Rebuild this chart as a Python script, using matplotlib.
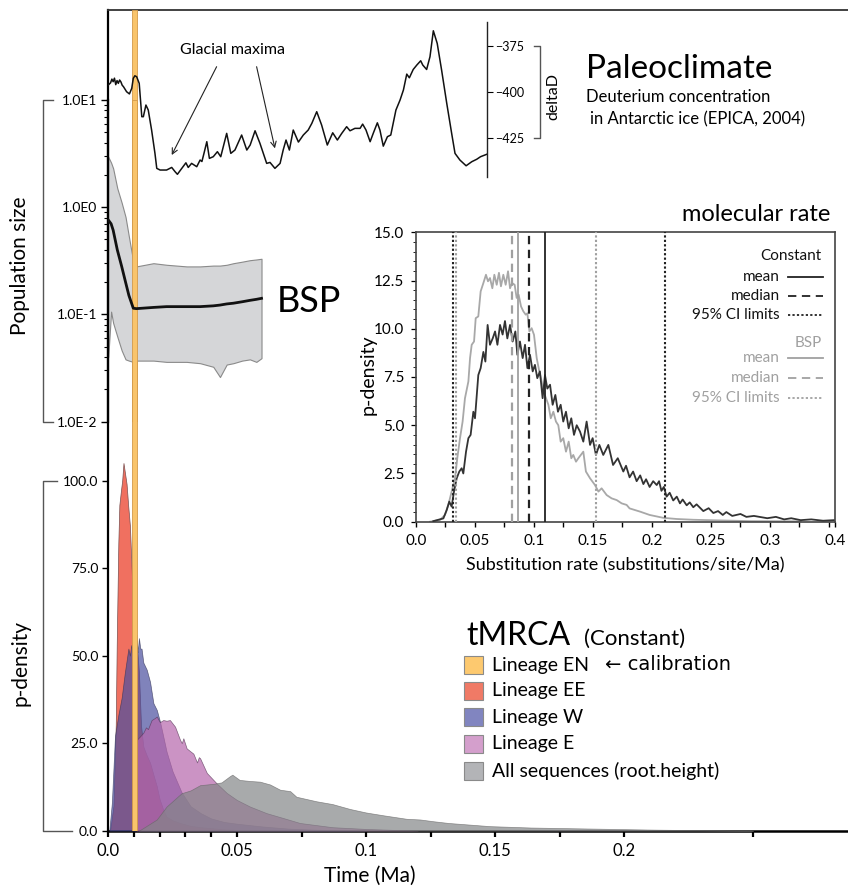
import numpy as np
import matplotlib
matplotlib.use('Agg')
import matplotlib.pyplot as plt
from matplotlib.lines import Line2D
from matplotlib.patches import Rectangle

plt.rcParams['font.family'] = ['Lato', 'DejaVu Sans']
plt.rcParams['lines.scale_dashes'] = False

# ---------------- data ----------------
# tMRCA densities (time in Ma, p-density)
ee_t = [0, 0.0008, 0.0021, 0.003, 0.0034, 0.004, 0.0044, 0.005, 0.0055, 0.006, 0.0066, 0.0072, 0.0078,
        0.0085, 0.0092, 0.0098, 0.0105, 0.0114, 0.012, 0.0128, 0.0137, 0.015, 0.0163, 0.0176, 0.0189,
        0.02, 0.0214, 0.0227, 0.025, 0.028, 0.032, 0.036, 0.045, 0.06]
ee_v = [0, 0, 7, 30, 54, 82, 93, 97, 100, 105, 102, 99, 93,
        87, 74, 59, 55, 51, 45, 30, 24, 21.5, 19.4, 16, 12.7,
        9, 6, 4, 3, 2.2, 1.4, 1, 0.4, 0]

w_t = [0.0005, 0.0015, 0.0027, 0.004, 0.0053, 0.0065, 0.0079, 0.0085, 0.009, 0.0095, 0.0100, 0.0105,
       0.011, 0.0115, 0.012, 0.0125, 0.013, 0.0137, 0.015, 0.0163, 0.0176, 0.0189, 0.0202, 0.0214,
       0.0227, 0.025, 0.0285, 0.032, 0.036, 0.04, 0.045, 0.05, 0.06, 0.07, 0.08, 0.1]
w_v = [0, 8, 27, 33, 38, 45, 52, 50, 53, 51, 55, 52,
       56, 51, 55, 52, 52, 48, 46, 42.5, 36.4, 34.5, 31, 27,
       22.6, 17, 11, 7, 5, 3.5, 2.5, 2, 1.2, 0.6, 0.3, 0]

e_t = [0.0111, 0.0112, 0.0125, 0.0137, 0.0147, 0.0155, 0.0169, 0.0182, 0.0189, 0.0201, 0.0214, 0.0227,
       0.024, 0.026, 0.0279, 0.0286, 0.0292, 0.0305, 0.0331, 0.0345, 0.0352, 0.0357, 0.0383, 0.042,
       0.046, 0.0499, 0.055, 0.0615, 0.068, 0.0744, 0.087, 0.1, 0.12]
e_v = [0, 26, 27, 28, 29.5, 29, 31.6, 32.2, 32.6, 31, 31.6, 31.4,
       31.6, 29.7, 26, 25, 26.4, 23.5, 22, 19.5, 21, 20.7, 16.5, 13.6,
       10.8, 8.8, 6.9, 5, 3.6, 2.2, 1, 0.5, 0]

all_t = [0.012, 0.0189, 0.0227, 0.0285, 0.032, 0.0357, 0.041, 0.044, 0.0473, 0.0482, 0.051, 0.055,
         0.0589, 0.0628, 0.0667, 0.0706, 0.073, 0.0808, 0.087, 0.0938, 0.1, 0.1067, 0.1157, 0.121,
         0.1261, 0.132, 0.148, 0.164, 0.18, 0.196, 0.212, 0.23, 0.25]
all_v = [0, 3.2, 6.9, 10.7, 11.5, 13, 13.4, 13.8, 15.6, 16, 14.5, 14.2,
         14, 13.2, 11.7, 11.3, 9.7, 8.4, 7.6, 6.2, 5.2, 4.4, 3.4, 3.2,
         2.7, 2.2, 1.3, 0.9, 0.7, 0.5, 0.3, 0.15, 0]

en_range = [0.0094, 0.0114]   # Lineage EN (calibration)

# Bayesian skyline plot (population size)
bsp_t = [0.0001, 0.0012, 0.002, 0.0036, 0.0053, 0.0068, 0.0081, 0.0098, 0.011, 0.0176, 0.0227,
         0.0305, 0.0357, 0.0408, 0.0434, 0.046, 0.0486, 0.052, 0.055, 0.0575, 0.0595]
bsp_upper = [2.95, 2.6, 2.3, 1.5, 1.1, 0.81, 0.53, 0.31, 0.28, 0.30, 0.29,
             0.28, 0.28, 0.285, 0.285, 0.29, 0.30, 0.31, 0.32, 0.325, 0.33]
bsp_median = [0.76, 0.70, 0.61, 0.40, 0.28, 0.20, 0.15, 0.114, 0.113, 0.116, 0.118,
              0.118, 0.118, 0.12, 0.122, 0.125, 0.127, 0.131, 0.135, 0.138, 0.141]
bsp_lower = [0.040, 0.106, 0.083, 0.062, 0.046, 0.038, 0.037, 0.036, 0.037, 0.037, 0.036,
             0.036, 0.035, 0.0324, 0.026, 0.034, 0.035, 0.037, 0.038, 0.036, 0.039]

# Paleoclimate: deuterium (EPICA)
deltaD_points = [
    (0.0001, -396.2), (0.001, -395.0), (0.0015, -393.0), (0.002, -394.4), (0.0025, -392.5), (0.003, -396.0),
    (0.0035, -393.8), (0.004, -395.3), (0.0045, -393.5), (0.005, -394.5), (0.0055, -396.3),
    (0.006, -397.1), (0.0072, -399.8), (0.0083, -401.0), (0.0092, -398.0), (0.0098, -392.6), (0.0104, -391.2),
    (0.0111, -391.7), (0.0121, -395.3), (0.0131, -413.3), (0.0137, -413.3), (0.0147, -407.0), (0.0156, -409.7),
    (0.0169, -420.5), (0.0182, -433.1), (0.0189, -441.2), (0.0202, -442.1), (0.0227, -442.1), (0.0247, -440.7),
    (0.026, -443.0), (0.0269, -444.4), (0.0286, -441.2), (0.0302, -438.2), (0.0311, -440.7), (0.0324, -438.5),
    (0.0344, -440.3), (0.0357, -436.7), (0.0364, -437.5), (0.0372, -433.1), (0.0383, -426.8), (0.0393, -435.8),
    (0.0408, -434.9), (0.0424, -432.2), (0.0437, -434.9), (0.046, -422.3), (0.0476, -433.1), (0.0492, -431.3),
    (0.0518, -423.2), (0.0538, -431.3), (0.0551, -428.6), (0.057, -420.9), (0.0589, -427.7), (0.0602, -433.1),
    (0.0615, -438.5), (0.0628, -438.0), (0.0647, -441.2), (0.0667, -438.5), (0.0679, -431.3), (0.069, -425.9),
    (0.0703, -431.3), (0.0718, -420.5), (0.0738, -427.0), (0.0757, -423.2), (0.0776, -420.5), (0.079, -416.9),
    (0.0809, -410.6), (0.0828, -417.8), (0.085, -428.6), (0.0871, -422.0), (0.0889, -425.9), (0.0906, -422.3),
    (0.0925, -418.7), (0.0938, -420.9), (0.0957, -419.6), (0.0977, -419.6), (0.0987, -417.3), (0.1, -420.5),
    (0.1016, -426.8), (0.1028, -422.3), (0.1044, -416.6), (0.1054, -420.5), (0.1067, -429.2), (0.1083, -424.1),
    (0.1096, -423.2), (0.1116, -409.7), (0.1132, -404.3), (0.1145, -398.9), (0.1158, -390.3), (0.1168, -392.3),
    (0.1183, -387.8), (0.1197, -385.4), (0.1212, -383.1), (0.122, -385.4), (0.1235, -387.8), (0.1248, -380.9),
    (0.1261, -366.9), (0.1276, -373.7), (0.1293, -388.1), (0.1313, -406.1), (0.1332, -422.3), (0.1345, -433.1),
    (0.1364, -436.7), (0.1388, -439.8), (0.141, -437.6), (0.1429, -436.3), (0.1444, -434.9), (0.1468, -433.6)]

# Molecular rate posterior densities
rate_constant = [
    (0.0147, 0.03), (0.0232, 0.17), (0.026, 0.6), (0.0282, 1.04), (0.0302, 0.78), (0.0322, 1.56), (0.0345, 2.25),
    (0.0367, 2.6), (0.0387, 2.77), (0.0401, 2.5), (0.0424, 3.63), (0.0444, 4.33), (0.0463, 4.5), (0.0486, 5.7),
    (0.05, 5.36), (0.0528, 7.6), (0.0548, 7.96), (0.0571, 8.8), (0.0588, 8.3), (0.0607, 10.2), (0.0627, 9.17),
    (0.065, 9.5), (0.067, 9.86), (0.069, 9.17), (0.0712, 10.2), (0.0734, 9.7), (0.0754, 10.4), (0.0774, 9.5),
    (0.0797, 10.2), (0.0819, 9.34), (0.0842, 9.86), (0.0859, 8.65), (0.0881, 9.34), (0.0904, 8.48), (0.0924, 9.17),
    (0.0944, 7.96), (0.0966, 8.65), (0.0989, 7.79), (0.1008, 8.13), (0.1028, 7.44), (0.105, 7.79), (0.1073, 6.4),
    (0.1093, 7.6), (0.1113, 6.9), (0.1136, 7.1), (0.1158, 6.06), (0.1181, 6.57), (0.1203, 5.7), (0.1226, 6.06),
    (0.1248, 5.19), (0.1271, 5.7), (0.1294, 4.84), (0.1316, 5.36), (0.1339, 4.5), (0.1362, 5.0), (0.139, 4.67),
    (0.1418, 4.15), (0.1446, 5.19), (0.1475, 3.98), (0.1497, 4.33), (0.1525, 3.46), (0.1554, 3.98), (0.1587, 3.46),
    (0.163, 3.98), (0.167, 2.94), (0.171, 3.29), (0.1757, 2.6), (0.178, 2.9), (0.181, 2.3), (0.184, 2.6),
    (0.187, 2.1), (0.19, 2.4), (0.1927, 1.95), (0.195, 2.2), (0.198, 1.8), (0.201, 2.1), (0.204, 1.9),
    (0.206, 2.1), (0.208, 1.6), (0.21, 1.8), (0.2124, 1.3), (0.215, 1.5), (0.218, 1.1), (0.221, 1.3),
    (0.2237, 0.95), (0.226, 1.15), (0.2294, 0.85), (0.232, 1.0), (0.235, 0.75), (0.2378, 0.9), (0.2435, 0.55),
    (0.248, 0.7), (0.252, 0.45), (0.256, 0.55), (0.26, 0.35), (0.263, 0.5), (0.268, 0.3), (0.275, 0.4),
    (0.28, 0.25), (0.2864, 0.3), (0.2977, 0.18), (0.305, 0.25), (0.312, 0.12), (0.318, 0.18), (0.326, 0.08),
    (0.335, 0.12), (0.345, 0.05), (0.354, 0.08)]

rate_bsp = [
    (0.0119, 0.0), (0.0203, 0.09), (0.0245, 0.35), (0.0274, 0.87), (0.0302, 1.56), (0.033, 2.25), (0.035, 3.29),
    (0.0373, 4.33), (0.0395, 5.19), (0.0415, 6.4), (0.0444, 7.27), (0.0458, 8.48), (0.0472, 9.17), (0.0492, 9.34),
    (0.0506, 10.55), (0.0528, 10.64), (0.0548, 11.94), (0.0571, 12.37), (0.0593, 12.8), (0.061, 12.46),
    (0.0627, 12.63), (0.0647, 12.1), (0.0664, 12.8), (0.0684, 12.28), (0.0703, 12.9), (0.072, 12.2), (0.074, 12.8),
    (0.076, 12.28), (0.078, 12.98), (0.0797, 12.1), (0.0814, 12.37), (0.0836, 12.28), (0.0853, 11.6), (0.087, 11.76),
    (0.089, 11.16), (0.091, 10.9), (0.093, 10.73), (0.0944, 10.8), (0.0961, 9.86), (0.098, 10.03), (0.1, 9.69),
    (0.1023, 8.48), (0.1045, 7.79), (0.1065, 7.27), (0.108, 6.75), (0.1102, 6.4), (0.1122, 6.06), (0.1142, 5.36),
    (0.1164, 5.7), (0.1186, 5.19), (0.1206, 5.0), (0.1226, 4.15), (0.1248, 4.33), (0.1271, 3.63), (0.1294, 4.15),
    (0.1316, 3.29), (0.1333, 3.46), (0.1356, 3.11), (0.1376, 3.29), (0.1418, 3.63), (0.144, 2.6), (0.1475, 2.25),
    (0.1517, 1.9), (0.1546, 1.56), (0.1573, 1.73), (0.1616, 1.38), (0.1658, 1.21), (0.1701, 1.12), (0.1743, 0.95),
    (0.1785, 0.87), (0.181, 0.69), (0.19, 0.52), (0.198, 0.35), (0.2096, 0.2), (0.221, 0.14), (0.235, 0.1),
    (0.255, 0.07), (0.283, 0.03), (0.326, 0.02)]

const_stats = {'mean': 0.109, 'median': 0.0955, 'ci': [0.0316, 0.211]}
bsp_stats = {'mean': 0.0862, 'median': 0.0814, 'ci': [0.0335, 0.1525]}

time_ticks = [0, 0.01, 0.02, 0.03, 0.04, 0.05, 0.075, 0.1, 0.125, 0.15, 0.175, 0.2, 0.25]
time_labels = ['0.0', '', '', '', '', '0.05', '', '0.1', '', '0.15', '', '0.2', '']
dens_ticks = [0, 25, 50, 75, 100]
dens_labels = ['0.0', '25.0', '50.0', '75.0', '100.0']
pop_ticks = [1e-2, 1e-1, 1e0, 1e1]
pop_labels = ['1.0E-2', '1.0E-1', '1.0E0', '1.0E1']
dD_ticks = [-375, -400, -425]
rate_major = [0, 0.05, 0.1, 0.15, 0.2, 0.25, 0.3, 0.3551]
rate_major_labels = ['0.0', '0.05', '0.1', '0.15', '0.2', '0.25', '0.3', '0.4']
rate_minor = [0.025, 0.075, 0.125, 0.175, 0.225, 0.275, 0.325, 0.35]
rate_yticks = [0, 2.5, 5, 7.5, 10, 12.5, 15]
rate_ylabels = ['0.0', '2.5', '5.0', '7.5', '10.0', '12.5', '15.0']

legend_names = ['Lineage EN', 'Lineage EE', 'Lineage W', 'Lineage E', 'All sequences (root.height)']
legend_colors = ['#fdc96f', '#f07a66', '#8185c0', '#d49fcc', '#b3b4b7']

# ---------------- layout helpers ----------------
W, H = 848, 886
fig = plt.figure(figsize=(W / 100, H / 100), dpi=100)


def rect(l, t, r, b):
    return [l / W, 1 - b / H, (r - l) / W, (b - t) / H]


def P(x, y):
    return (x / W, 1 - y / H)


def fline(xs, ys, **kw):
    fig.add_artist(Line2D([x / W for x in xs], [1 - y / H for y in ys], transform=fig.transFigure,
                          zorder=20, **kw))


def ftext(x, y, s, **kw):
    fig.text(x / W, 1 - y / H, s, zorder=21, **kw)


# ---------------- main (tMRCA) axes ----------------
ax = fig.add_axes(rect(108, 10, 848, 830.7), zorder=1)
ax.set_xlim(0, 740 / 2580)
ax.set_ylim(0, 820.7 / 3.502)
ax.spines['right'].set_visible(False)
ax.spines['left'].set_linewidth(1.6)
ax.spines['bottom'].set_linewidth(1.8)
ax.spines['top'].set_linewidth(1.3)
ax.spines['top'].set_color('#333333')

ax.fill_between(ee_t, 0, ee_v, facecolor='#f07060', edgecolor='#7a5050', lw=0.5, zorder=2)
ax.fill_between(w_t, 0, w_v, facecolor='#4a4f9f', alpha=0.7, edgecolor='#333355', lw=0.5, zorder=3)
ax.fill_between(e_t, 0, e_v, facecolor='#b666ab', alpha=0.7, edgecolor='#553355', lw=0.5, zorder=4)
ax.fill_between(all_t, 0, all_v, facecolor='#848688', alpha=0.7, edgecolor='#666666', lw=0.5, zorder=5)
ax.axvspan(en_range[0], en_range[1], facecolor='#f9c46b', edgecolor='#d39a4a', lw=0.6, zorder=6)

ax.set_xticks(time_ticks)
ax.set_xticklabels(time_labels, fontsize=12)
ax.set_yticks(dens_ticks)
ax.set_yticklabels(dens_labels, fontsize=10)
ax.tick_params(axis='x', direction='out', length=4, width=1.6, pad=5)
ax.tick_params(axis='y', direction='out', length=4.5, width=1.0, pad=2.5)

# ---------------- BSP axes ----------------
axb = fig.add_axes(rect(108, 100, 848, 421.5), zorder=2)
axb.set_facecolor('none')
axb.set_xlim(0, 740 / 2580)
axb.set_yscale('log')
axb.set_ylim(1e-2, 1e1)
for sp in ['right', 'top', 'bottom']:
    axb.spines[sp].set_visible(False)
axb.spines['left'].set_linewidth(1.6)
axb.fill_between(bsp_t, bsp_lower, bsp_upper, facecolor='#d5d6d8', edgecolor='#8a8a8a', lw=0.8, zorder=1)
axb.axvspan(en_range[0], en_range[1], facecolor='#f9c46b', edgecolor='#d39a4a', lw=0.6, zorder=2)
axb.plot(bsp_t, bsp_median, color='#111111', lw=2.0, zorder=3)
axb.set_xticks([])
axb.set_yticks(pop_ticks)
axb.set_yticklabels(pop_labels, fontsize=10)
axb.tick_params(axis='y', which='major', direction='out', length=5, width=1.0, pad=2.5)
axb.tick_params(axis='y', which='minor', direction='out', length=3, width=0.8)

# ---------------- deltaD axes ----------------
axd = fig.add_axes(rect(108, 21.7, 487, 176.7), zorder=2)
axd.set_facecolor('none')
axd.set_xlim(0, 379 / 2580)
axd.set_ylim(-445.7, -362)
for sp in ['left', 'top', 'bottom']:
    axd.spines[sp].set_visible(False)
axd.spines['right'].set_linewidth(1.0)
axd.spines['right'].set_color('#222222')
dd = np.array(deltaD_points)
axd.plot(dd[:, 0], dd[:, 1], color='#111111', lw=1.1)
axd.set_xticks([])
axd.yaxis.tick_right()
axd.set_yticks(dD_ticks)
axd.tick_params(axis='y', direction='out', length=4, width=0.8, pad=2, labelsize=9)
axd.annotate('', xy=(0.0247, -434), xytext=(0.0421, -386.3),
             arrowprops=dict(arrowstyle='->', lw=0.8, color='#222222', shrinkA=0, shrinkB=0))
axd.annotate('', xy=(0.0647, -430.4), xytext=(0.0576, -386.3),
             arrowprops=dict(arrowstyle='->', lw=0.8, color='#222222', shrinkA=0, shrinkB=0))
ftext(232, 54, 'Glacial maxima', fontsize=11.5, ha='center', va='baseline')

# deltaD bracket + label
fline([534, 540, 540, 534], [45.7, 45.7, 138.3, 138.3], color='#555555', lw=1.0)
ftext(553, 97, 'deltaD', fontsize=11.5, rotation=90, ha='center', va='center')

ftext(586, 78, 'Paleoclimate', fontsize=24, ha='left', va='baseline')
ftext(586, 102, 'Deuterium concentration', fontsize=12, ha='left', va='baseline')
ftext(590, 124, 'in Antarctic ice (EPICA, 2004)', fontsize=12, ha='left', va='baseline')

# BSP label and brackets
ftext(277, 312, 'BSP', fontsize=26, ha='left', va='baseline')
fline([53, 43, 43, 53], [100, 100, 421.5, 421.5], color='#555555', lw=1.0)
ftext(20, 266, 'Population size', fontsize=15, rotation=90, ha='center', va='center')
fline([57, 43, 43, 72], [480.5, 480.5, 830.7, 830.7], color='#555555', lw=1.0)
ftext(20, 663, 'p-density', fontsize=15, rotation=90, ha='center', va='center')
ftext(370, 876, 'Time (Ma)', fontsize=15, ha='center', va='center')

# ---------------- molecular rate inset ----------------
axi = fig.add_axes(rect(416, 232.3, 835, 521.7), zorder=3)
axi.set_facecolor('white')
axi.set_xlim(0, 0.3551)
axi.set_ylim(0, 15)
for sp in axi.spines.values():
    sp.set_color('#444444')
    sp.set_linewidth(1.2)
rc = np.array(rate_constant)
rb = np.array(rate_bsp)
axi.plot(rb[:, 0], rb[:, 1], color='#a8a8a8', lw=1.3, zorder=2)
axi.plot(rc[:, 0], rc[:, 1], color='#333333', lw=1.3, zorder=3)
dark, light = '#222222', '#a0a0a0'
dash = (0, (6, 4))
dot = (0, (1.6, 1.6))
axi.axvline(const_stats['mean'], color=dark, lw=1.3, zorder=4)
axi.axvline(const_stats['median'], color=dark, lw=1.6, ls=dash, zorder=4)
for c in const_stats['ci']:
    axi.axvline(c, color=dark, lw=1.5, ls=dot, zorder=4)
axi.axvline(bsp_stats['mean'], color=light, lw=1.3, zorder=4)
axi.axvline(bsp_stats['median'], color=light, lw=1.6, ls=dash, zorder=4)
for c in bsp_stats['ci']:
    axi.axvline(c, color=light, lw=1.5, ls=dot, zorder=4)

axi.set_xticks(rate_major)
axi.set_xticklabels(rate_major_labels, fontsize=11)
axi.set_xticks(rate_minor, minor=True)
axi.set_yticks(rate_yticks)
axi.set_yticklabels(rate_ylabels, fontsize=11)
axi.set_yticks(np.arange(0, 15.01, 0.5), minor=True)
axi.tick_params(axis='x', which='both', direction='out', length=3.5, width=1.0, pad=5)
axi.tick_params(axis='y', which='major', direction='out', length=3.5, width=0.9, pad=5)
axi.tick_params(axis='y', which='minor', direction='out', length=2, width=0.6)
ftext(625, 565, 'Substitution rate (substitutions/site/Ma)', fontsize=13, ha='center', va='center')
ftext(368, 375, 'p-density', fontsize=14, rotation=90, ha='center', va='center')
ftext(830, 221, 'molecular rate', fontsize=17, ha='right', va='baseline')

# inset legend
ftext(821.7, 256, 'Constant', fontsize=11, ha='right', va='center', color='#111111')
rows_c = [(276.7, '-'), (296, dash), (315, dot)]
for (yy, st), lab in zip(rows_c, ['mean', 'median', '95% CI limits']):
    ftext(780, yy, lab, fontsize=11, ha='right', va='center', color='#111111')
    fline([788, 823], [yy, yy], color=dark, lw=1.3, ls=st)
ftext(821.7, 343, 'BSP', fontsize=11, ha='right', va='center', color=light)
rows_b = [(358.3, '-'), (378.3, dash), (397.7, dot)]
for (yy, st), lab in zip(rows_b, ['mean', 'median', '95% CI limits']):
    ftext(780, yy, lab, fontsize=11, ha='right', va='center', color=light)
    fline([788, 823], [yy, yy], color=light, lw=1.3, ls=st)

# ---------------- tMRCA legend ----------------
ftext(466.7, 645, 'tMRCA', fontsize=23, ha='left', va='baseline')
ftext(584, 645, '(Constant)', fontsize=16, ha='left', va='baseline')
row_y = [665, 690.7, 717.3, 744, 770.7]
for yy, name, col in zip(row_y, legend_names, legend_colors):
    fig.add_artist(Rectangle(P(464.3, yy + 9), 18.4 / W, 18 / H, transform=fig.transFigure,
                             facecolor=col, edgecolor='#8a8a8a', lw=0.8, zorder=20))
    ftext(491.7, yy, name, fontsize=14, ha='left', va='center')
ftext(605, 665, '\u2190 calibration', fontsize=14, ha='left', va='center', family=['DejaVu Sans'])

fig.savefig('out.png', dpi=100)
